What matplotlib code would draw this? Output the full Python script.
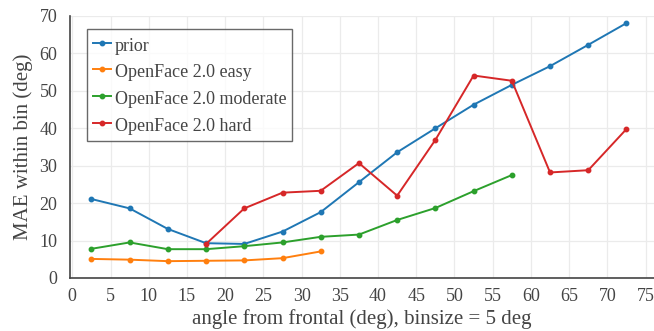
import matplotlib
matplotlib.use("Agg")
import matplotlib.pyplot as plt

plt.rcParams['font.family'] = ['Liberation Serif', 'DejaVu Serif']

x_all = [2.5, 7.5, 12.5, 17.5, 22.5, 27.5, 32.5, 37.5, 42.5, 47.5, 52.5, 57.5, 62.5, 67.5, 72.5]
prior = [21.1, 18.6, 13.1, 9.3, 9.1, 12.4, 17.6, 25.6, 33.6, 40.0, 46.3, 51.6, 56.6, 62.3, 68.1]
easy_x = [2.5, 7.5, 12.5, 17.5, 22.5, 27.5, 32.5]
easy = [5.1, 4.9, 4.5, 4.6, 4.7, 5.3, 7.1]
moderate_x = [2.5, 7.5, 12.5, 17.5, 22.5, 27.5, 32.5, 37.5, 42.5, 47.5, 52.5, 57.5]
moderate = [7.8, 9.5, 7.7, 7.7, 8.5, 9.5, 11.0, 11.6, 15.5, 18.7, 23.2, 27.5]
hard_x = [17.5, 22.5, 27.5, 32.5, 37.5, 42.5, 47.5, 52.5, 57.5, 62.5, 67.5, 72.5]
hard = [9.1, 18.6, 22.8, 23.3, 30.7, 22.0, 36.9, 54.1, 52.7, 28.2, 28.8, 39.8]
labels = ["prior", "OpenFace 2.0 easy", "OpenFace 2.0 moderate", "OpenFace 2.0 hard"]
colors = ["#1f77b4", "#ff7f0e", "#2ca02c", "#d62728"]

fig = plt.figure(figsize=(6.54, 3.31), dpi=100)
ax = fig.add_axes([70/654, 1-278/331, (654-70)/654, (278-16)/331])

series = [(x_all, prior), (easy_x, easy), (moderate_x, moderate), (hard_x, hard)]
for (xs, ys), lab, c in zip(series, labels, colors):
    ax.plot(xs, ys, color=c, lw=1.4, marker='o', ms=3.2, label=lab)

ax.set_xlim(-0.3, 76.1)
ax.set_ylim(0, 70)
ax.set_xticks(range(0, 80, 5))
ax.set_yticks(range(0, 80, 10))
ax.grid(True, color='#ebebeb', lw=0.9)
ax.set_axisbelow(True)
for s in ['top', 'right']:
    ax.spines[s].set_visible(False)
for s in ['left', 'bottom']:
    ax.spines[s].set_color('#444444')
    ax.spines[s].set_linewidth(1.2)
ax.tick_params(length=0, labelsize=13, colors='#444444', pad=7)
ax.tick_params(axis='y', pad=9)
ax.set_xlabel("angle from frontal (deg), binsize = 5 deg", fontsize=15, color='#444444', labelpad=3)
ax.set_ylabel("MAE within bin (deg)", fontsize=15, color='#444444', labelpad=5)

leg = ax.legend(loc='upper left', bbox_to_anchor=(17/584, 1-13/262), fontsize=13,
                frameon=True, fancybox=False, handlelength=1.0, handletextpad=0.22,
                handleheight=1.3, borderpad=0.32, labelspacing=0.38, borderaxespad=0)
leg.get_frame().set_edgecolor('#444444')
leg.get_frame().set_linewidth(1.0)
for t in leg.get_texts():
    t.set_color('#444444')

fig.savefig("out.png", dpi=100)
